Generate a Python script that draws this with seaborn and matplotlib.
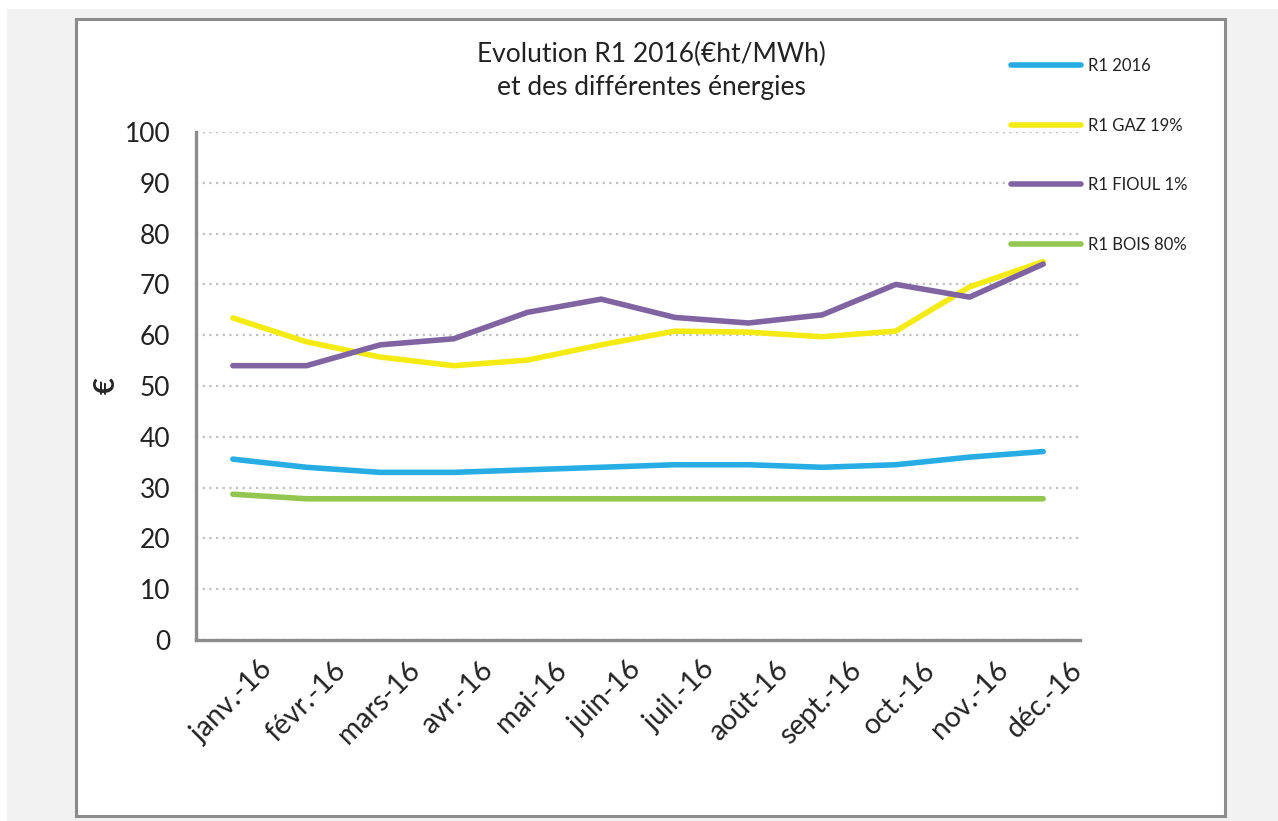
import numpy as np
import pandas as pd
import seaborn as sns
import matplotlib.pyplot as plt
from matplotlib.patches import Rectangle
from matplotlib.transforms import ScaledTranslation

mois = ["janv.-16", "févr.-16", "mars-16", "avr.-16", "mai-16", "juin-16",
        "juil.-16", "août-16", "sept.-16", "oct.-16", "nov.-16", "déc.-16"]
r1_2016 = [35.6, 34.0, 33.0, 33.0, 33.5, 34.0, 34.5, 34.5, 34.0, 34.5, 36.0, 37.1]
r1_gaz = [63.4, 58.7, 55.7, 54.0, 55.1, 58.1, 60.8, 60.6, 59.7, 60.8, 69.5, 74.5]
r1_fioul = [54.0, 54.0, 58.1, 59.3, 64.5, 67.1, 63.5, 62.4, 64.0, 70.0, 67.5, 74.0]
r1_bois = [28.7, 27.8, 27.8, 27.8, 27.8, 27.8, 27.8, 27.8, 27.8, 27.8, 27.8, 27.8]

series = ["R1 2016", "R1 GAZ 19%", "R1 FIOUL 1%", "R1 BOIS 80%"]
couleurs = ["#27ade3", "#f5eb14", "#8064a2", "#92c650"]

tabela = pd.DataFrame({"mois": mois * 4,
                       "valeur": r1_2016 + r1_gaz + r1_fioul + r1_bois,
                       "serie": np.repeat(series, len(mois))})

sns.set_style("white")
plt.rcParams["font.family"] = ["Lato", "DejaVu Sans"]

fig = plt.figure(figsize=(12.78, 8.21), dpi=100, facecolor="white")
# fond gris et cadre blanc
fig.patches.append(Rectangle((7 / 1278, 0), 1, 1 - 9 / 821, transform=fig.transFigure,
                             facecolor="#f2f2f2", edgecolor="none", zorder=-3))
fig.patches.append(Rectangle((76 / 1278, 1 - 816 / 821), (1225 - 76) / 1278, (816 - 19) / 821,
                             transform=fig.transFigure, facecolor="white",
                             edgecolor="#8c8c8c", linewidth=2.2, zorder=-2))

ax = fig.add_axes([196 / 1278, 1 - 640 / 821, (1080 - 196) / 1278, (640 - 132) / 821])
ax.set_facecolor("none")
sns.lineplot(data=tabela, x="mois", y="valeur", hue="serie", palette=couleurs,
             linewidth=4.0, sort=False, ax=ax, legend=False,
             solid_capstyle="round")

ax.set_ylim(0, 100)
ax.set_yticks(range(0, 101, 10))
ax.set_xlim(-0.5, 11.5)
ax.yaxis.grid(True, linestyle=(0, (1, 2)), color="#bfbfbf", linewidth=1.6)
ax.set_axisbelow(True)
for s in ["top", "right"]:
    ax.spines[s].set_visible(False)
ax.spines["left"].set_color("#8c8c8c")
ax.spines["left"].set_linewidth(2.4)
ax.spines["bottom"].set_color("#8c8c8c")
ax.spines["bottom"].set_linewidth(2.4)
ax.tick_params(axis="both", length=0, labelsize=19, colors="#222222")
ax.tick_params(axis="y", pad=18.5)
ax.tick_params(axis="x", pad=12, labelsize=20.5)
decal = ScaledTranslation(0.26, 0, fig.dpi_scale_trans)
for lab in ax.get_xticklabels():
    lab.set_rotation(45)
    lab.set_ha("right")
    lab.set_rotation_mode("anchor")
    lab.set_transform(lab.get_transform() + decal)
ax.set_xlabel("")
ax.set_ylabel("€", fontsize=21, fontweight="bold")
ax.yaxis.set_label_coords(-0.086, 0.5)

fig.text(651 / 1278, 1 - 71 / 821, "Evolution R1 2016(€ht/MWh)\net des différentes énergies",
         ha="center", va="center", fontsize=19, color="#222222", linespacing=1.4)

handles = [plt.Line2D([], [], color=c, linewidth=4.0, solid_capstyle="round") for c in couleurs]
fig.legend(handles, series, loc="upper left", bbox_to_anchor=(996 / 1278, 1 - 43 / 821),
           frameon=False, fontsize=12, handlelength=4.2, labelspacing=2.62,
           handletextpad=0.45, labelcolor="#222222")

fig.savefig("out.png", dpi=100)
